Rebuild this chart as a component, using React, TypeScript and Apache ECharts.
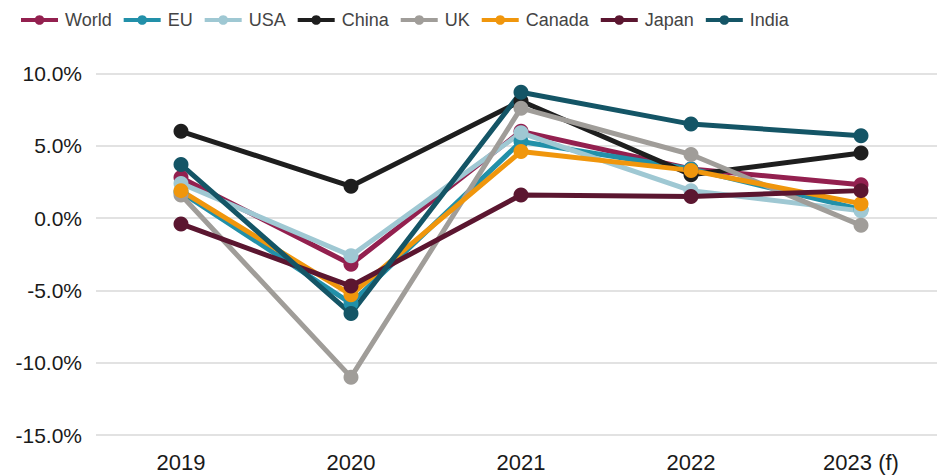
import React, { useEffect, useRef } from "react";
import * as echarts from "echarts";

// Real GDP growth by economy, annual %
const years = ["2019", "2020", "2021", "2022", "2023 (f)"];

const world = [2.8, -3.2, 6.0, 3.4, 2.3];
const eu = [1.8, -5.9, 5.3, 3.4, 0.6];
const usa = [2.4, -2.6, 5.9, 1.9, 0.5];
const china = [6.0, 2.2, 8.1, 3.0, 4.5];
const uk = [1.6, -11.0, 7.6, 4.4, -0.5];
const canada = [1.9, -5.3, 4.6, 3.3, 1.0];
const japan = [-0.4, -4.7, 1.6, 1.5, 1.9];
const india = [3.7, -6.6, 8.7, 6.5, 5.7];

const seriesDefs = [
  { name: "World", data: world, color: "#93204f" },
  { name: "EU", data: eu, color: "#2290a9" },
  { name: "USA", data: usa, color: "#9fc8d3" },
  { name: "China", data: china, color: "#1e1e1e" },
  { name: "UK", data: uk, color: "#a09d99" },
  { name: "Canada", data: canada, color: "#f0960c" },
  { name: "Japan", data: japan, color: "#5b1630" },
  { name: "India", data: india, color: "#145566" },
];

const FONT = "'Liberation Sans', Arial, Helvetica, sans-serif";

export default function App() {
  const ref = useRef<HTMLDivElement>(null);

  useEffect(() => {
    if (!ref.current) return;
    const chart = echarts.init(ref.current, undefined, { renderer: "svg" });
    chart.setOption({
      animation: false,
      textStyle: { fontFamily: FONT },
      legend: {
        left: 14,
        top: 6,
        itemWidth: 37,
        itemHeight: 12,
        itemGap: 10,
        textStyle: { fontSize: 18, color: "#444444", fontFamily: FONT, padding: [0, 0, 0, 2] },
        lineStyle: { width: 4 },
        data: seriesDefs.map((s) => s.name),
      },
      grid: { left: 96, top: 73.5, width: 850, height: 361.5, containLabel: false },
      xAxis: {
        type: "category",
        data: years,
        boundaryGap: true,
        axisLine: { show: false },
        axisTick: { show: false },
        axisLabel: { fontSize: 22, color: "#1a1a1a", margin: 16, fontFamily: FONT },
      },
      yAxis: {
        type: "value",
        min: -15,
        max: 10,
        interval: 5,
        axisLine: { show: false },
        axisTick: { show: false },
        axisLabel: {
          fontSize: 21,
          color: "#1a1a1a",
          margin: 14,
          fontFamily: FONT,
          formatter: (v: number) => v.toFixed(1) + "%",
        },
        splitLine: { lineStyle: { color: "#e2e2e2", width: 2 } },
      },
      series: seriesDefs.map((s) => ({
        name: s.name,
        type: "line",
        data: s.data,
        symbol: "circle",
        symbolSize: 15,
        color: s.color,
        lineStyle: { width: 5, color: s.color },
        itemStyle: { color: s.color },
      })),
    });
    return () => chart.dispose();
  }, []);

  return (
    <div
      style={{
        position: "absolute",
        left: 0,
        top: 0,
        width: 937,
        height: 476,
        overflow: "hidden",
      }}
    >
      <div ref={ref} style={{ width: 960, height: 476 }} />
    </div>
  );
}
